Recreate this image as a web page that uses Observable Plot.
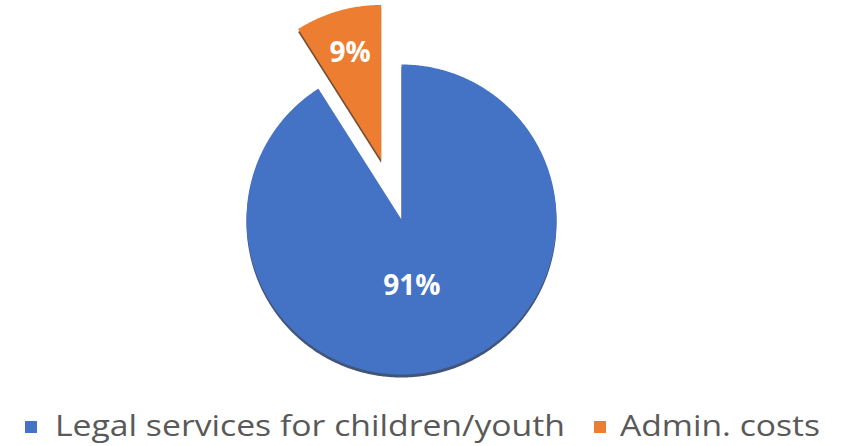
<!DOCTYPE html>
<html>
<head>
<meta charset="utf-8">
<script src="https://cdn.jsdelivr.net/npm/d3@7"></script>
<script src="https://cdn.jsdelivr.net/npm/@observablehq/plot@0.6"></script>
<style>
  html, body { margin: 0; padding: 0; background: #fff; overflow: hidden; }
  #chart svg { display: block; }
</style>
</head>
<body>
<div id="chart"></div>
<script>
// ---- data ----
const categories = ["Legal services for children/youth", "Admin. costs"];
const values = [91, 9];
const pctLabels = ["91%", "9%"];
const colors = ["#4472C4", "#ED7D31"];
const shadowColors = ["#22375e", "#5a2e0e"];

// ---- layout ----
const W = 851, H = 400;
const cx = 401, cy = 219, R = 155;
const explode = [0, 62];
const labelR = [0.45, 0.72];
const labelDx = [-9, 0];

const pie = d3.pie().sort(null).startAngle(0).endAngle(2 * Math.PI);
const arcs = pie(values);

const slices = arcs.map((a, i) => {
  const mid = (a.startAngle + a.endAngle) / 2;
  const ox = cx + Math.sin(mid) * explode[i] - (i === 1 ? 3 : 0);
  const oy = cy - Math.cos(mid) * explode[i];
  const pts = [{x: ox, y: oy}];
  const n = Math.max(8, Math.ceil((a.endAngle - a.startAngle) / (Math.PI / 360)));
  for (let k = 0; k <= n; k++) {
    const t = a.startAngle + (a.endAngle - a.startAngle) * k / n;
    pts.push({x: ox + Math.sin(t) * R, y: oy - Math.cos(t) * R});
  }
  pts.push({x: ox, y: oy});
  const lr = R * labelR[i];
  return {
    i, pts,
    label: {x: ox + Math.sin(mid) * lr, y: oy - Math.cos(mid) * lr, text: pctLabels[i], cat: categories[i]}
  };
});

const marks = [];
// shadows
slices.forEach(s => {
  marks.push(Plot.line(s.pts, {x: "x", y: "y", dy: 3, fill: shadowColors[s.i], fillOpacity: 0.85, stroke: "none", curve: "linear"}));
});
// slices
slices.forEach(s => {
  marks.push(Plot.line(s.pts, {x: "x", y: "y", fill: colors[s.i], stroke: "none", curve: "linear"}));
});
// labels
slices.forEach(s => {
  marks.push(Plot.text([s.label], {
    x: "x", y: "y", text: "text", fill: "white", dx: labelDx[s.i],
    fontSize: 28, fontWeight: "bold", fontFamily: "Open Sans", textAnchor: "middle", lineAnchor: "middle"
  }));
});

const plot = Plot.plot({
  width: W, height: H, margin: 0,
  style: {background: "white", fontFamily: "Open Sans"},
  x: {domain: [0, W], range: [0, W], axis: null},
  y: {domain: [0, H], range: [0, H], axis: null},
  marks
});
document.getElementById("chart").appendChild(plot);

// ---- legend below ----
const legendItems = [
  {sq: 25, tx: 55, len: 510},
  {sq: 594, tx: 620, len: 200}
];
const leg = d3.select("#chart").append("svg")
  .attr("width", W).attr("height", 46).style("display", "block");
categories.forEach((c, i) => {
  const it = legendItems[i];
  leg.append("rect").attr("x", it.sq).attr("y", 21).attr("width", 12).attr("height", 12).attr("fill", colors[i]);
  leg.append("text").attr("x", it.tx).attr("y", 36)
    .attr("font-family", "Open Sans").attr("font-size", 29).attr("fill", "#595959")
    .attr("textLength", it.len).attr("lengthAdjust", "spacingAndGlyphs")
    .text(c);
});
</script>
</body>
</html>
